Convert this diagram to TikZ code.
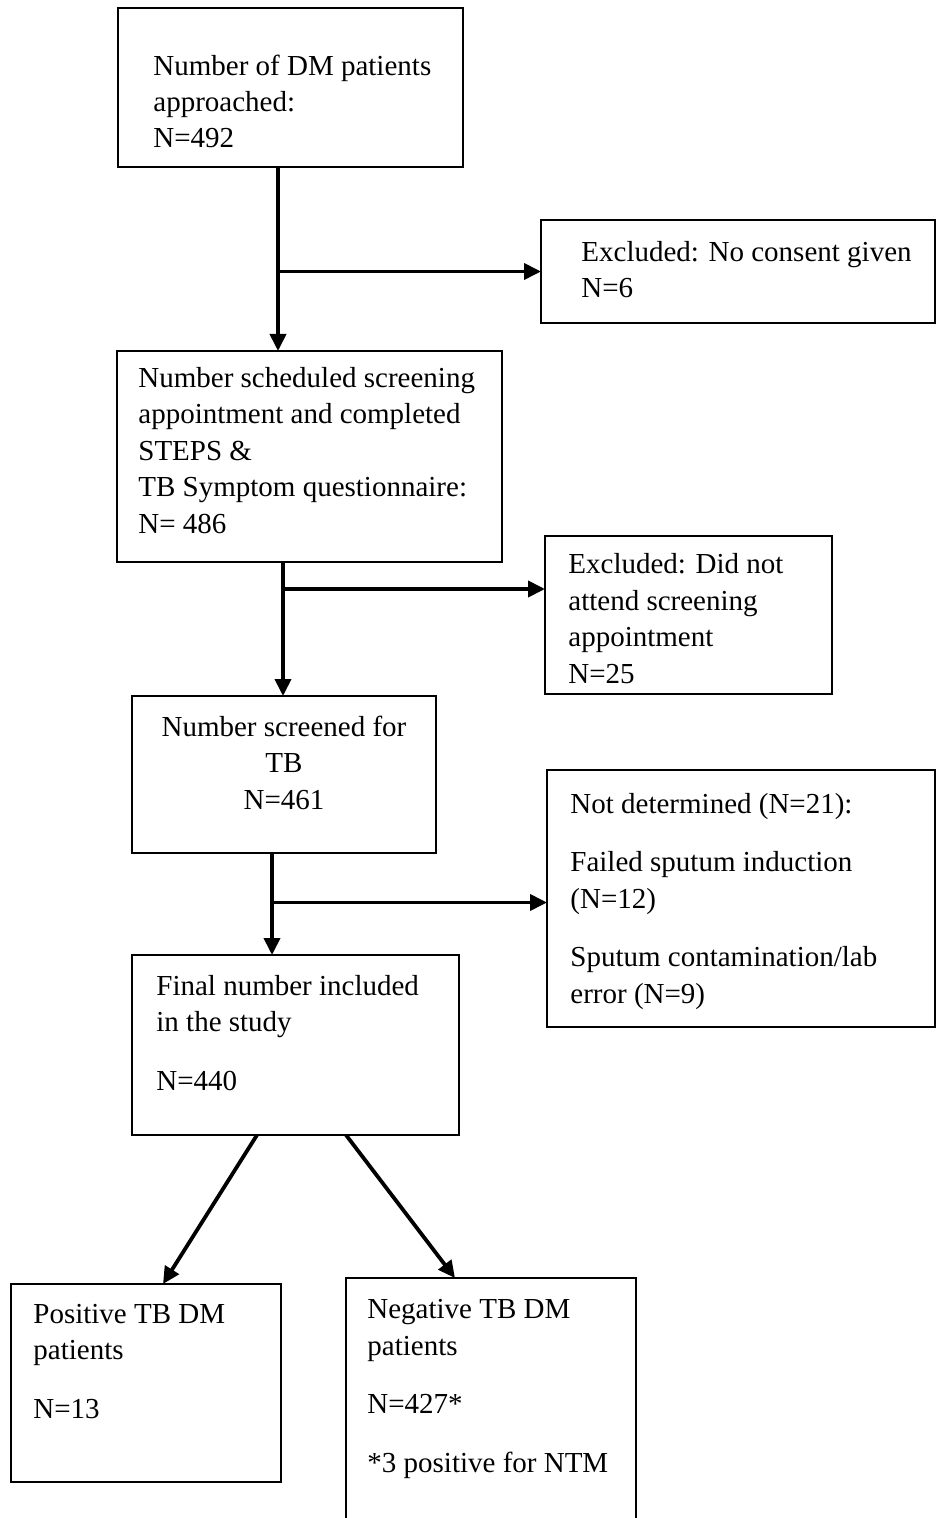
\documentclass[tikz,border=0pt]{standalone}
\usepackage{fontspec}
\setmainfont{Liberation Serif}
\usetikzlibrary{arrows.meta}

\begin{document}
\begin{tikzpicture}[x=0.5pt,y=-0.5pt,
		box/.style={draw, line width=0.9pt, anchor=north west, inner sep=0pt, outer sep=0pt},
		txt/.style={anchor=base west, align=left, inner sep=0pt, font=\fontsize{14.5}{18.2}\selectfont},
		arr/.style={line width=1.9pt, -{Triangle[length=8.5pt,width=8pt]}}
	]
		\useasboundingbox (0,0) rectangle (936,1518);

		\node[box, minimum width=172.5pt, minimum height=79.5pt] (boxA) at (118,8) {};
		\node[box, minimum width=197pt, minimum height=51.5pt] (exclA) at (541,220) {};
		\node[box, minimum width=192.5pt, minimum height=105.5pt] (boxB) at (117,351) {};
		\node[box, minimum width=143.5pt, minimum height=79pt] (exclB) at (545,536) {};
		\node[box, minimum width=152pt, minimum height=78.5pt] (boxC) at (132,696) {};
		\node[box, minimum width=194pt, minimum height=128.5pt] (exclC) at (547,770) {};
		\node[box, minimum width=163.5pt, minimum height=90pt] (boxD) at (132,955) {};
		\node[box, minimum width=135pt, minimum height=99pt] (boxPos) at (11,1284) {};
		\node[box, minimum width=145pt, minimum height=131pt] (boxNeg) at (346,1278) {};

		\node[txt] (txtA) at (153,148) {Number of DM patients\\approached:\\N=492};
		\node[txt] (txtExclA) at (581,298) {Excluded: No consent given\\N=6};
		\node[txt] (txtB) at (138,533) {Number scheduled screening\\appointment and completed\\STEPS \&\\TB Symptom questionnaire:\\N= 486};
		\node[txt] (txtExclB) at (568,683) {Excluded: Did not\\attend screening\\appointment\\N=25};
		\node[txt, anchor=base, align=center] (txtC) at (284,809) {Number screened for\\TB\\N=461};
		\node[txt] (txtExclC) at (570,1003) {Not determined (N=21):\\[11pt]Failed sputum induction\\(N=12)\\[11pt]Sputum contamination/lab\\error (N=9)};
		\node[txt] (txtD) at (156,1090) {Final number included\\in the study\\[11pt]N=440};
		\node[txt] (txtPos) at (33,1418) {Positive TB DM\\patients\\[11pt]N=13};
		\node[txt] (txtNeg) at (367,1472) {Negative TB DM\\patients\\[11pt]N=427*\\[11pt]*3 positive for NTM};

		\coordinate (inA) at (exclA.west);
		\coordinate (inB) at ([yshift=13pt]exclB.west);
		\coordinate (inC) at ([yshift=-2pt]exclC.west);

		\draw[arr] ([xshift=80pt]boxA.south west) coordinate (t1) -- (t1 |- boxB.north);
		\draw[arr] (t1 |- inA) -- (inA);
		\draw[arr] ([xshift=83pt]boxB.south west) coordinate (t2) -- (t2 |- boxC.north);
		\draw[arr] (t2 |- inB) -- (inB);
		\draw[arr] ([xshift=70pt]boxC.south west) coordinate (t3) -- (t3 |- boxD.north);
		\draw[arr] (t3 |- inC) -- (inC);
		\draw[arr] ([xshift=62.5pt]boxD.south west) -- ([xshift=76pt]boxPos.north west);
		\draw[arr] ([xshift=107pt]boxD.south west) -- ([xshift=54.5pt]boxNeg.north west);
	\end{tikzpicture}
\end{document}
